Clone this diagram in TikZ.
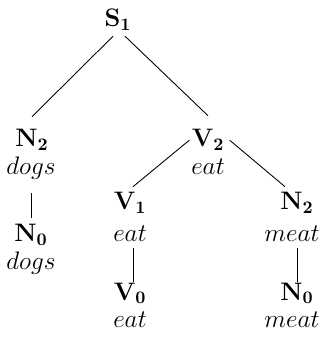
\documentclass[tikz,border=0pt]{standalone}
\begin{document}
\begin{tikzpicture}[font={\fontsize{14.4}{17}\selectfont},line width=0.5pt,
  kat/.style={anchor=base,inner sep=0pt},
  wort/.style={anchor=base,inner sep=0pt}]
\useasboundingbox (0,0) rectangle (6.42,6.76);
% Wurzel
\node[kat] (s1) at (2.36,6.22) {$\mathbf{S_1}$};
% linker Ast
\node[kat] (n2a) at (0.64,3.82) {$\mathbf{N_2}$}; \node[wort] (dogsa) at (0.62,3.26) {$dogs$};
\node[kat] (n0a) at (0.62,1.92) {$\mathbf{N_0}$}; \node[wort] (dogsb) at (0.62,1.36) {$dogs$};
% rechter Ast
\node[kat] (v2) at (4.16,3.82) {$\mathbf{V_2}$}; \node[wort] (eata) at (4.16,3.26) {$eat$};
\node[kat] (v1) at (2.60,2.56) {$\mathbf{V_1}$}; \node[wort] (eatb) at (2.60,1.92) {$eat$};
\node[kat] (v0) at (2.60,0.76) {$\mathbf{V_0}$}; \node[wort] (eatc) at (2.60,0.22) {$eat$};
\node[kat] (n2b) at (5.94,2.56) {$\mathbf{N_2}$}; \node[wort] (meata) at (5.84,1.92) {$meat$};
\node[kat] (n0b) at (5.94,0.76) {$\mathbf{N_0}$}; \node[wort] (meatb) at (5.84,0.22) {$meat$};
% Kanten
\draw ([xshift=-0.1cm,yshift=-0.1cm]s1.south) -- ([yshift=0.25cm]n2a.north);
\draw ([xshift=0.14cm,yshift=-0.1cm]s1.south) -- ([yshift=0.27cm]v2.north);
\draw ([xshift=-0.04cm]v2.west) -- ([xshift=0.06cm,yshift=0.11cm]v1.north);
\draw ([xshift=0.1cm]v2.east) -- ([xshift=-0.24cm,yshift=0.11cm]n2b.north);
\draw ([yshift=-0.26cm]dogsa.south) -- ([yshift=0.13cm]n0a.north);
\draw ([xshift=0.06cm,yshift=-0.12cm]eatb.south) -- ([xshift=0.06cm,yshift=0.0cm]v0.north);
\draw ([yshift=-0.12cm]n2b.south |- meata.south) -- ([yshift=0.0cm]n0b.north);
\end{tikzpicture}
\end{document}
